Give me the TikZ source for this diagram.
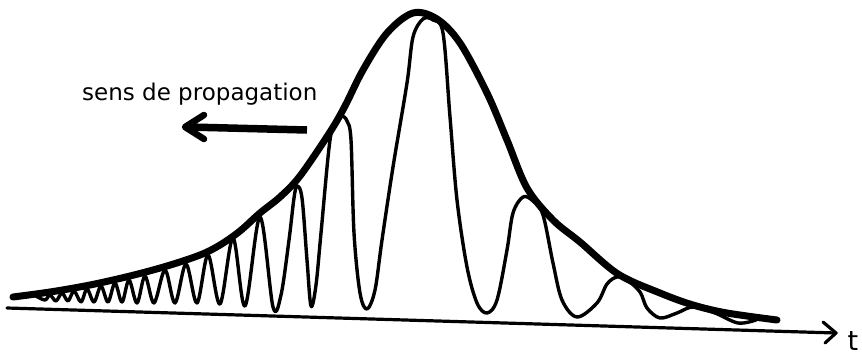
\documentclass[tikz,border=0pt]{standalone}
\usepackage{fontspec}
\setmainfont{DejaVu Sans}
\begin{document}
\begin{tikzpicture}[x=1pt,y=-1pt,
  envelope/.style={line width=7pt, line cap=round, line join=round},
  wave/.style={line width=3.4pt, line cap=round, line join=round},
  axisline/.style={line width=3.2pt, line cap=round, line join=round},
  shaft/.style={line width=7.5pt},
  barb/.style={line width=6.5pt, line cap=round, line join=round},
  lbl/.style={inner sep=0pt, font=\fontsize{23}{28}\selectfont}]
\useasboundingbox (0,0) rectangle (862,356);

% oscillating field
\draw[wave] plot[smooth, tension=0.55] coordinates {
 (36,296) (45,300) (50,295) (56,301) (62,293) (68,301) (74,291) (81,302)
 (87,289) (94,302) (101,286) (108,302) (115,283) (122,302) (129,280)
 (137,303) (145,276) (154,303) (165,270) (175,303) (186,264) (197,303)
 (208,255) (220,304) (233,238) (245,306) (260,217) (273,307)
 (281,295) (289,240) (294,198) (297,186) (302,198) (307,260) (311,306)
 (316,285) (321,233) (330,140) (337,120) (342,116) (347,121) (351,140)
 (354,233) (360,293) (367,309)
 (375,290) (382,240) (393,167) (407,83) (413,37) (423,19) (433,20) (443,33)
 (450,117) (457,200) (467,267) (477,303) (487,313)
 (497,300) (507,250) (513,213) (523,197) (533,201) (543,215) (553,263)
 (562,300) (577,317)
 (597,303) (607,284) (617,277) (627,280) (640,292) (647,308) (660,318)
 (677,313) (693,307) (715,313) (738,323) (756,320)};

% envelope
\draw[envelope] plot[smooth, tension=0.55] coordinates {
 (13,297) (50,292) (90,285) (130,276) (167,266) (200,255) (220,245)
 (240,231) (260,213) (280,197) (300,176) (330,132) (345,106) (363,70)
 (387,33) (413,13) (437,19) (460,43) (487,93) (507,140) (527,188)
 (553,220) (580,242) (618,274) (660,293) (693,305) (727,313) (777,320)};

% time axis
\coordinate (axL) at (7,308);
\coordinate (axR) at (836,333);
\coordinate (hU) at (823,322);
\coordinate (hD) at (825,343);
\draw[axisline] (axL) -- (axR);
\draw[axisline] (hU) -- (axR) -- (hD);
\node[anchor=base, inner sep=0pt, font=\fontsize{27}{32}\selectfont] (tlab) at (853,350) {t};

% propagation direction
\node[lbl, anchor=base west] (label) at (82,100) {sens de propagation};
\coordinate (arrS) at (307,130);
\coordinate (arrT) at (185,127);
\coordinate (bU) at (204,115);
\coordinate (bD) at (204,139);
\draw[shaft] (arrS) -- ([xshift=3pt]arrT);
\draw[barb] (bU) -- (arrT) -- (bD);
\end{tikzpicture}
\end{document}
